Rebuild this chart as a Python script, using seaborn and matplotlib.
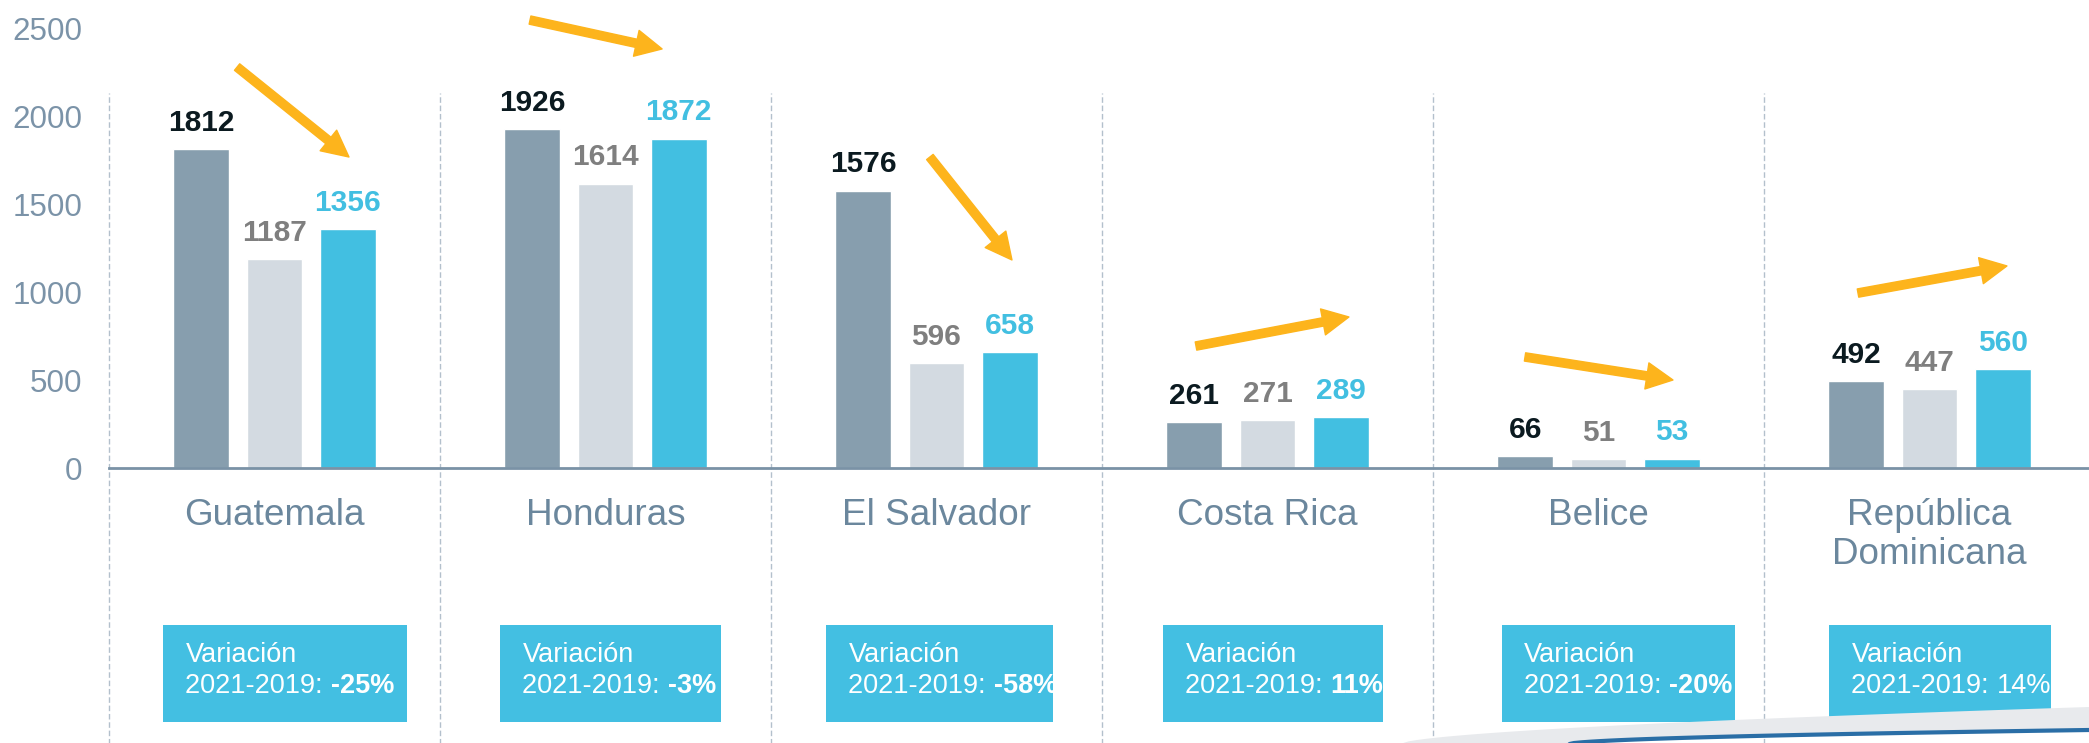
import numpy as np
import pandas as pd
import matplotlib
matplotlib.use("Agg")
import matplotlib.pyplot as plt
from matplotlib.patches import Rectangle, Polygon
import seaborn as sns

# ---------------- data ----------------
countries = ["Guatemala", "Honduras", "El Salvador", "Costa Rica", "Belice",
             "República\nDominicana"]
years = ["2019", "2020", "2021"]
v2019 = [1812, 1926, 1576, 261, 66, 492]
v2020 = [1187, 1614, 596, 271, 51, 447]
v2021 = [1356, 1872, 658, 289, 53, 560]
variation = ["-25%", "-3%", "-58%", "11%", "-20%", "14%"]
variation_bold = [True, True, True, True, True, False]
yticks = [0, 500, 1000, 1500, 2000, 2500]

# ---------------- layout ----------------
# trend arrows (start/end relative to category centre, in value units)
arrow_dx = [(-0.113, 0.225), (-0.228, 0.171), (-0.020, 0.228),
            (-0.216, 0.246), (-0.222, 0.225), (-0.216, 0.234)]
arrow_y = [(2278, 1767), (2545, 2381), (1767, 1182),
           (693, 858), (631, 500), (994, 1148)]
# variation boxes: left offset and width in category units
box_left = [-0.337, -0.319, -0.334, -0.316, -0.292, -0.304]
box_width = [0.737, 0.668, 0.685, 0.665, 0.705, 0.671]

# ---------------- styles ----------------
bar_colors = ["#879eae", "#d3dae1", "#42bfe1"]
label_colors = ["#0b1a20", "#7f7f7f", "#42bfe1"]
tick_color = "#7b93a8"
cat_color = "#6b879d"
arrow_color = "#fdb41c"
box_color = "#43bfe2"

sns.set_theme(style="white")
plt.rcParams["font.family"] = ["Liberation Sans", "DejaVu Sans"]

df = pd.DataFrame({
    "country": np.repeat(countries, 3),
    "year": years * len(countries),
    "value": np.ravel(np.column_stack([v2019, v2020, v2021])),
})

W, H = 2089, 743
fig = plt.figure(figsize=(W / 100, H / 100), dpi=100)
ax = fig.add_axes([109 / W, 275 / H, 1 - 109 / W, 468 / H])

sns.barplot(data=df, x="country", y="value", hue="year", palette=bar_colors,
            width=0.663, gap=0.235, saturation=1, legend=False, ax=ax,
            errorbar=None)

ax.set_xlim(-0.5, -0.5 + 1980 / 331)
ymax = 468 / 88 * 500
ax.set_ylim(0, ymax)
ax.set_yticks(yticks)
ax.set_xlabel("")
ax.set_ylabel("")
ax.tick_params(axis="y", length=0, pad=19, labelsize=22.6, labelcolor=tick_color)
ax.tick_params(axis="x", length=0, pad=21.5, labelsize=26.6, labelcolor=cat_color)
for lab in ax.get_xticklabels():
    lab.set_linespacing(1.15)
for s in ["top", "right", "left"]:
    ax.spines[s].set_visible(False)
ax.spines["bottom"].set_color("#7a92a6")
ax.spines["bottom"].set_linewidth(2)

# dashed separators
ax.vlines(np.arange(len(countries)) - 0.5, -1800, 2131, colors="#b3c0cc",
          linestyles=(0, (4, 2)), linewidth=1, clip_on=False, zorder=0)

# value labels
for cont, col in zip(ax.containers, label_colors):
    ax.bar_label(cont, padding=9, color=col, fontsize=21.5, fontweight="bold")

# arrows
for i, ((dx0, dx1), (y0, y1)) in enumerate(zip(arrow_dx, arrow_y)):
    ax.annotate("", xy=(i + dx1, y1), xytext=(i + dx0, y0),
                arrowprops=dict(arrowstyle="simple,head_length=0.95,head_width=0.95,tail_width=0.3",
                                color=arrow_color, mutation_scale=20,
                                shrinkA=0, shrinkB=0),
                annotation_clip=False)

# variation boxes
for i, (v, b, bl, bw) in enumerate(zip(variation, variation_bold, box_left, box_width)):
    x0 = i + bl
    ax.add_patch(Rectangle((x0, -1443), bw, 551, facecolor=box_color,
                           edgecolor="none", clip_on=False, zorder=3))
    ax.text(x0 + 0.068, -1102, "Variación", color="white", fontsize=19.5,
            va="baseline", ha="left", zorder=4, clip_on=False)
    t2 = ax.text(x0 + 0.068, -1278, "2021-2019: ", color="white", fontsize=19.5,
                 va="baseline", ha="left", zorder=4, clip_on=False)
    ax.annotate(v, xy=(1, 0), xycoords=t2, va="bottom", ha="left",
                color="white", fontsize=19.5,
                fontweight="bold" if b else "normal", zorder=4)

# decorative swoosh bottom-right
xs = np.linspace(1400, W, 80)
t = (xs - 1400) / (W - 1400)
ygrey = 744 - 37 * t ** 0.6
xb = np.linspace(1565, W, 60)
tb = (xb - 1565) / (W - 1565)
yblue = 745 - 15 * tb ** 0.5
poly = np.vstack([np.column_stack([xs, ygrey]),
                  np.column_stack([xb[::-1], yblue[::-1]])])
fig.add_artist(Polygon(np.column_stack([poly[:, 0] / W, 1 - poly[:, 1] / H]),
                       closed=True, facecolor="#e8eaed", edgecolor="none",
                       transform=fig.transFigure, zorder=1))
fig.add_artist(plt.Line2D(xb / W, 1 - yblue / H, color="#2a6ea6", lw=3,
                          transform=fig.transFigure, zorder=2))

fig.savefig("out.png", dpi=100)
